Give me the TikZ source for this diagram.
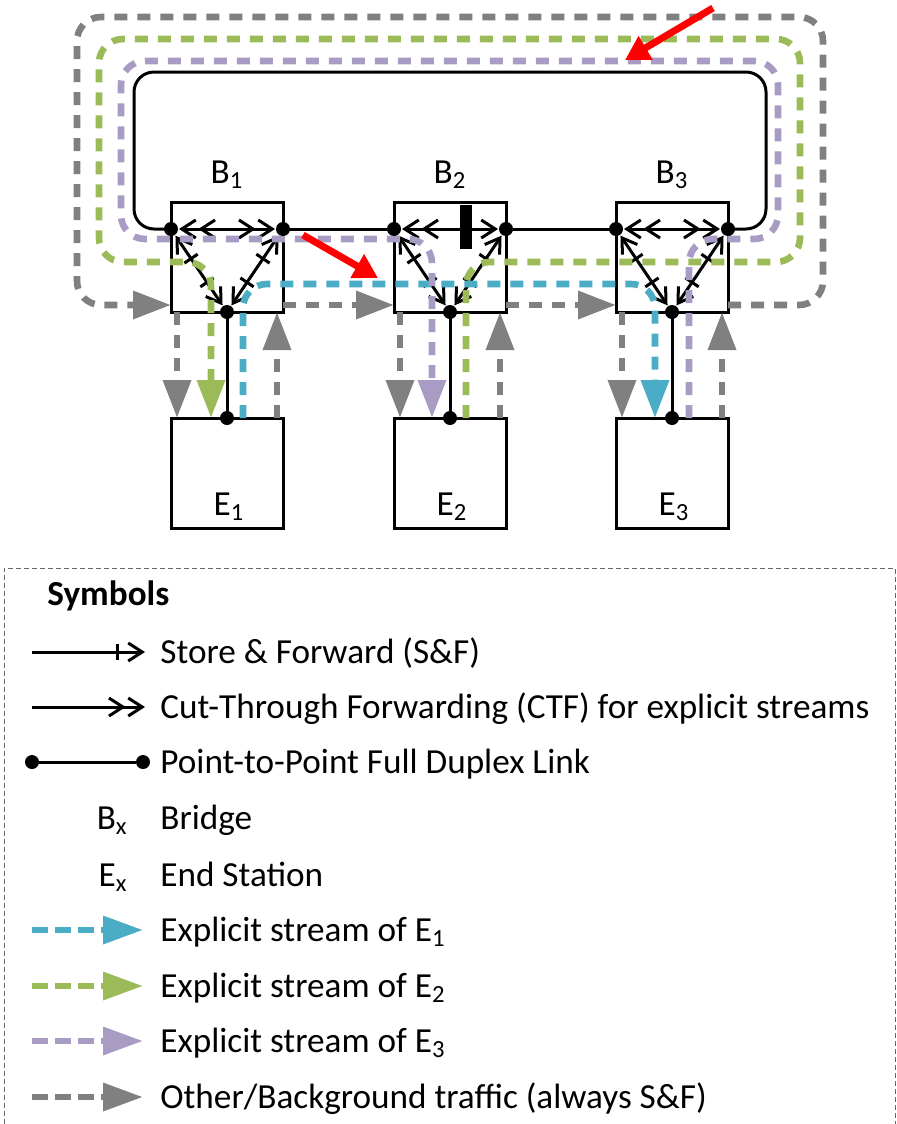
\documentclass[tikz,border=0pt]{standalone}
\usepackage{fontspec}
\setmainfont{Carlito}
\usetikzlibrary{arrows.meta,calc}
\definecolor{streamEa}{RGB}{75,172,198}
\definecolor{streamEb}{RGB}{155,187,89}
\definecolor{streamEc}{RGB}{168,155,196}
\definecolor{bgtraffic}{RGB}{128,128,128}
\newcommand{\diafont}{\fontsize{17.6}{20}\selectfont}

\begin{document}
\begin{tikzpicture}[
    x=0.5pt, y=-0.5pt,
    every node/.style={font=\diafont},
    txt/.style={inner sep=0pt},
    box/.style={draw, fill=white, line width=1.5pt, minimum width=56pt, minimum height=55pt, inner sep=0pt, outer sep=0pt},
    link/.style={line width=1.5pt},
    port/.style={circle, fill=black, inner sep=0pt, minimum size=7pt},
    sftip/.tip={Bar[width=8pt,sep=4pt]Straight Barb[length=7pt,width=9pt]},
    ctftip/.tip={Straight Barb[length=7pt,width=9pt,sep=0.5pt]Straight Barb[length=7pt,width=9pt]},
    sfboth/.style={link, shorten <=4pt, shorten >=4pt, {sftip}-{sftip}},
    ctfboth/.style={link, shorten <=4pt, shorten >=4pt, {ctftip}-{ctftip}},
    traffic/.style={line width=3.3pt, dash pattern=on 6.5pt off 5pt, rounded corners=12pt, -{Triangle[length=19pt,width=13.5pt]}},
    legstream/.style={line width=3.3pt, dash pattern=on 8pt off 3.5pt, -{Triangle[length=20pt,width=13.5pt]}},
    alert/.style={red, line width=3.5pt, -{Triangle[length=12pt,width=13pt]}},
    frame/.style={black!60, line width=0.5pt, dash pattern=on 2.5pt off 1.5pt}
]
\useasboundingbox (0,0) rectangle (897,1124);

% Bridges and end stations
\foreach \i/\x in {1/227,2/450,3/672}{
    \node[box] (b\i) at (\x,257) {};
    \node[box] (e\i) at (\x,473) {};
    \coordinate (l\i) at (\x-56,229);
    \coordinate (r\i) at (\x+56,229);
    \coordinate (d\i) at (\x,312);
    \coordinate (u\i) at (\x,418);
    \node[txt, anchor=base] (lb\i) at (\x,183) {B\textsubscript{\i}};
    \node[txt, anchor=base] (le\i) at (\x+2,515) {E\textsubscript{\i}};
}

% Ring and links
\draw[link, rounded corners=10pt] (l1) -| (134,72) -| (766,229) -- (r3);
\draw[link] (r1) -- (l2) (r2) -- (l3);
\foreach \i in {1,2,3} \draw[link] (d\i) -- (u\i);

% Forwarding inside the bridges
\draw[ctfboth] (l1) -- (r1);
\draw[ctfboth] (l3) -- (r3);
\draw[link, shorten <=4pt, shorten >=4pt, {ctftip}-{sftip}] (l2) -- (r2);
\foreach \i in {1,2,3}{
    \draw[sfboth] (l\i) -- (d\i);
    \draw[sfboth] (r\i) -- (d\i);
}
\node[fill=black, minimum width=6pt, minimum height=22pt, inner sep=0pt] (block) at (466,227) {};

% Background traffic
\draw[traffic, bgtraffic] ([yshift=3.5pt]b3.south east) -| (823,17) -| (77,305) -- ([yshift=3.5pt]b1.south west);
\draw[traffic, bgtraffic] ([yshift=3.5pt]b1.south east) -- ([yshift=3.5pt]b2.south west);
\draw[traffic, bgtraffic] ([yshift=3.5pt]b2.south east) -- ([yshift=3.5pt]b3.south west);
\foreach \i in {1,2,3}{
    \draw[traffic, bgtraffic] ([xshift=3pt]b\i.south west) -- ([xshift=3pt]e\i.north west);
    \draw[traffic, bgtraffic] ([xshift=-3pt]e\i.north east) -- ([xshift=-3pt]b\i.south east);
}

% Explicit streams
\draw[traffic, streamEa] ([xshift=8pt]e1.north) |- (655,284) -- ([xshift=-8.5pt]e3.north);
\draw[traffic, streamEb] ([xshift=8pt]e2.north) |- (800,262) |- (99,39) |- (211,262) -- ([xshift=-8pt]e1.north);
\draw[traffic, streamEc] ([xshift=8.5pt]e3.north) |- (778,239) |- (121,61) |- (432,239) -- ([xshift=-9pt]e2.north);

% Ports
\foreach \p in {l1,r1,d1,u1,l2,r2,d2,u2,l3,r3,d3,u3}
    \node[port] (dot\p) at (\p) {};

% Red markers
\coordinate (warnA) at (713,8);
\coordinate (warnAtip) at (625,60);
\coordinate (warnB) at (303,235);
\coordinate (warnBtip) at (378,278);
\draw[alert] (warnA) -- (warnAtip);
\draw[alert] (warnB) -- (warnBtip);

% Legend
\draw[frame] (4,1124) |- (895,568) -- (895,1124);
\node[txt, anchor=base west, font=\diafont\bfseries] (symbols) at (47,605) {Symbols};

\coordinate (sfa) at (32,652);
\coordinate (sfb) at (145,652);
\draw[link, -{sftip}] (sfa) -- (sfb);
\node[txt, anchor=base west] (sftext) at (160,663) {Store \& Forward (S\&F)};

\coordinate (ctfa) at (32,707);
\coordinate (ctfb) at (145,707);
\draw[link, -{ctftip}] (ctfa) -- (ctfb);
\node[txt, anchor=base west] (ctftext) at (160,718) {Cut-Through Forwarding (CTF) for explicit streams};

\node[port] (pa) at (32,762) {};
\node[port] (pb) at (143,762) {};
\draw[link] (pa) -- (pb);
\node[txt, anchor=base west] (ptext) at (160,773) {Point-to-Point Full Duplex Link};

\node[txt, anchor=base east] (bx) at (128,829) {B\textsubscript{x}};
\node[txt, anchor=base west] (bxtext) at (160,829) {Bridge};
\node[txt, anchor=base east] (ex) at (128,886) {E\textsubscript{x}};
\node[txt, anchor=base west] (extext) at (160,886) {End Station};

\foreach \c/\y/\t/\n in {streamEa/930/{Explicit stream of E\textsubscript{1}}/sa,
                         streamEb/986/{Explicit stream of E\textsubscript{2}}/sb,
                         streamEc/1041/{Explicit stream of E\textsubscript{3}}/sc,
                         bgtraffic/1097/{Other/Background traffic (always S\&F)}/sd}{
    \coordinate (\n a) at (32,\y);
    \coordinate (\n b) at (143,\y);
    \draw[legstream, \c] (\n a) -- (\n b);
    \node[txt, anchor=base west] (\n text) at (160,\y+11) {\t};
}
\end{tikzpicture}
\end{document}
